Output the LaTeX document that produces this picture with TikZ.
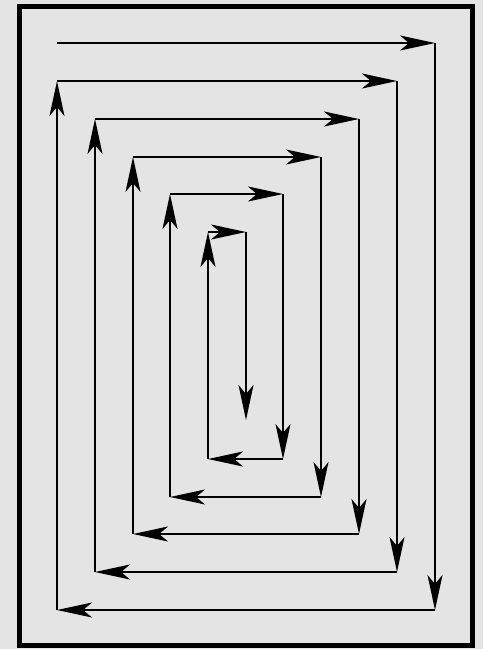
\documentclass[tikz,border=0pt]{standalone}
\usetikzlibrary{arrows.meta}
\definecolor{bgcol}{RGB}{228,228,228}
\begin{document}
\begin{tikzpicture}[x=1pt,y=-1pt,
  seg/.style={line width=2.2pt,-{Stealth[length=35pt,width=15pt,inset=9pt]}},
  frame/.style={line width=5pt}]
\fill[bgcol] (0,0) rectangle (483,649);
\useasboundingbox (0,0) rectangle (483,649);
\draw[frame] (19.5,6.5) rectangle (472,645.5);
% spiral corner points
\coordinate (p0) at (57,43);
\coordinate (p1) at (435,43);
\coordinate (p2) at (435,610);
\coordinate (p3) at (57,610);
\coordinate (p4) at (57,81);
\coordinate (p5) at (397,81);
\coordinate (p6) at (397,572);
\coordinate (p7) at (95,572);
\coordinate (p8) at (95,119);
\coordinate (p9) at (359,119);
\coordinate (p10) at (359,534);
\coordinate (p11) at (133,534);
\coordinate (p12) at (133,157);
\coordinate (p13) at (321,157);
\coordinate (p14) at (321,497);
\coordinate (p15) at (170,497);
\coordinate (p16) at (170,194);
\coordinate (p17) at (283,194);
\coordinate (p18) at (283,459);
\coordinate (p19) at (208,459);
\coordinate (p20) at (208,232);
\coordinate (p21) at (246,232);
\coordinate (p22) at (246,420);
\foreach \a/\b in {0/1,1/2,2/3,3/4,4/5,5/6,6/7,7/8,8/9,9/10,10/11,11/12,12/13,13/14,14/15,15/16,16/17,17/18,18/19,19/20,20/21,21/22}
  \draw[seg] (p\a) -- (p\b);
\end{tikzpicture}
\end{document}
